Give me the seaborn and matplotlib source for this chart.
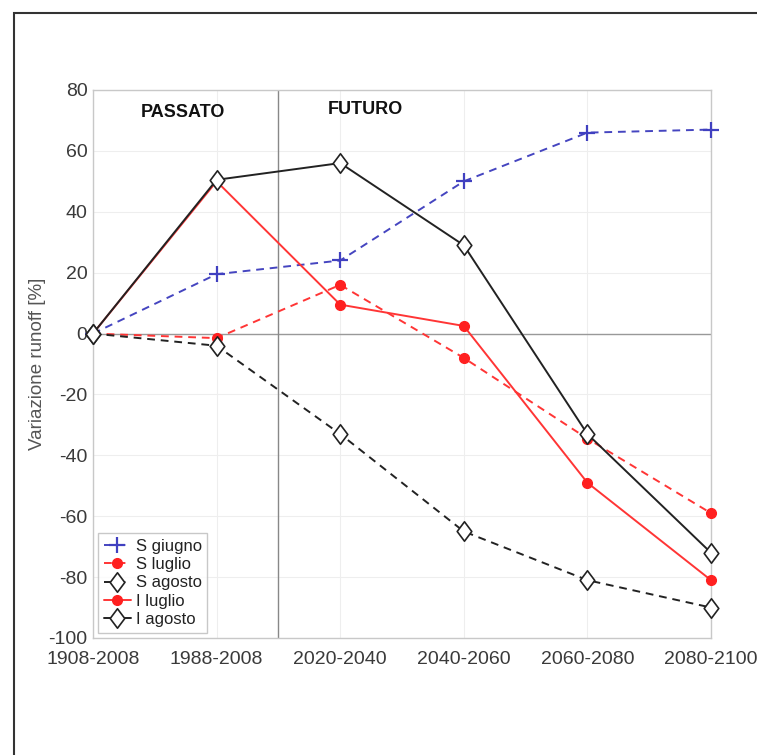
import matplotlib
matplotlib.use("Agg")
import matplotlib.pyplot as plt
import seaborn as sns
import pandas as pd
from matplotlib.patches import Rectangle
from matplotlib.path import Path

periods = ["1908-2008", "1988-2008", "2020-2040", "2040-2060", "2060-2080", "2080-2100"]
s_giugno = [0, 19.5, 24, 50, 66, 67]
s_luglio = [0, -1.5, 16, -8, -34.5, -59]
s_agosto = [0, -4, -33, -65, -81, -90]
i_luglio = [0, 50, 9.5, 2.5, -49, -81]
i_agosto = [0, 50.5, 56, 29, -33, -72]
series_names = ["S giugno", "S luglio", "S agosto", "I luglio", "I agosto"]
yticks = [-100, -80, -60, -40, -20, 0, 20, 40, 60, 80]

sns.set_theme(style="white")
plt.rcParams["font.family"] = ["Liberation Sans", "DejaVu Sans"]
plt.rcParams["axes.unicode_minus"] = False

rows = []
for name, vals in zip(series_names, [s_giugno, s_luglio, s_agosto, i_luglio, i_agosto]):
    for i, v in enumerate(vals):
        rows.append({"pos": i, "val": v, "serie": name})
df = pd.DataFrame(rows)

diamond = Path([(0, 1), (0.75, 0), (0, -1), (-0.75, 0), (0, 1)],
               [Path.MOVETO, Path.LINETO, Path.LINETO, Path.LINETO, Path.CLOSEPOLY])

styles = {
    "S giugno": dict(color="#4545c0", ls=(0, (4, 3)), marker="+", ms=11, mfc="#4040c0", mec="#4040c0", mew=1.6),
    "S luglio": dict(color="#ff3535", ls=(0, (4, 3)), marker="o", ms=7, mfc="#ff2020", mec="#ff2020", mew=1.0),
    "S agosto": dict(color="#222222", ls=(0, (4, 3)), marker=diamond, ms=14, mfc="white", mec="#222222", mew=1.2),
    "I luglio": dict(color="#ff3535", ls="-", marker="o", ms=7, mfc="#ff2020", mec="#ff2020", mew=1.0),
    "I agosto": dict(color="#222222", ls="-", marker=diamond, ms=14, mfc="white", mec="#222222", mew=1.2),
}

fig = plt.figure(figsize=(7.57, 7.55), dpi=100)
ax = fig.add_axes([93/757, 1 - 638/755, (711-93)/757, (638-90)/755])

for name in series_names:
    st = styles[name]
    sub = df[df["serie"] == name]
    sns.lineplot(data=sub, x="pos", y="val", ax=ax, color=st["color"], linestyle=st["ls"],
                 linewidth=1.4, marker=st["marker"], markersize=st["ms"],
                 markerfacecolor=st["mfc"], markeredgecolor=st["mec"], markeredgewidth=st["mew"],
                 label=name, legend=False, clip_on=False, zorder=5)

ax.set_xlim(0, 5)
ax.set_ylim(-100, 80)
ax.set_xticks(range(len(periods)))
ax.set_xticklabels(periods)
ax.set_yticks(yticks)
ax.set_xlabel("")
ax.set_ylabel("Variazione runoff [%]", fontsize=13.5, color="#555555", labelpad=2)
ax.tick_params(axis="both", labelsize=14, labelcolor="#3a3a3a", length=3, color="#bbbbbb", direction="in")
ax.tick_params(axis="x", pad=9)
ax.tick_params(axis="y", pad=4)
ax.grid(True, color="#eeeeee", linewidth=0.8)
for sp in ax.spines.values():
    sp.set_color("#c8c8c8")
    sp.set_linewidth(1.0)

ax.axhline(0, color="#999999", linewidth=1.0, zorder=1)
ax.axvline(1.5, color="#888888", linewidth=1.0, zorder=1)
ax.text(0.73, 72.5, "PASSATO", ha="center", va="center", fontsize=13, fontweight="bold", color="#111111")
ax.text(2.2, 73.5, "FUTURO", ha="center", va="center", fontsize=13, fontweight="bold", color="#111111")

handles, labels = ax.get_legend_handles_labels()
leg = ax.legend(handles, labels, loc="lower left", fontsize=12, frameon=True, fancybox=False,
                edgecolor="#bbbbbb", handlelength=1.6, handletextpad=0.3, labelspacing=0.2,
                borderpad=0.35, borderaxespad=0.3)
leg.get_frame().set_linewidth(1.0)
for t in leg.get_texts():
    t.set_color("#222222")

fig.patches.append(Rectangle((14/757, -0.5), 2.0, 1.5 - 13/755, transform=fig.transFigure,
                             fill=False, edgecolor="#333333", linewidth=1.5))

fig.savefig("out.png", dpi=100)
